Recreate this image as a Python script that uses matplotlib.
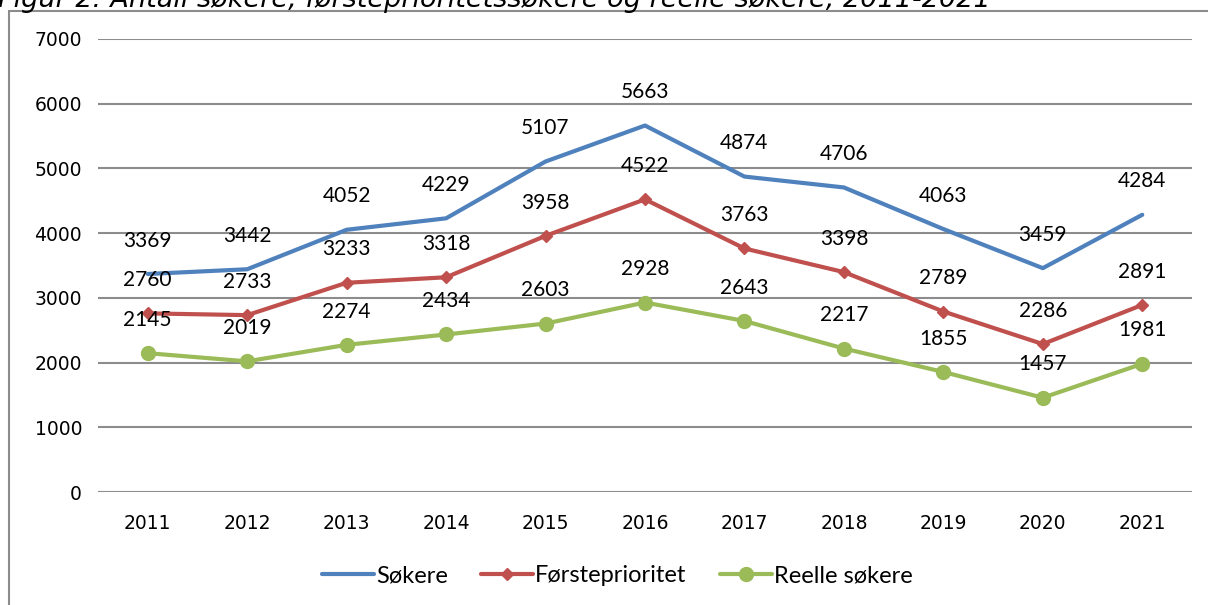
import matplotlib
matplotlib.use("Agg")
import matplotlib.pyplot as plt
from matplotlib.patches import Rectangle

years = ["2011", "2012", "2013", "2014", "2015", "2016", "2017", "2018", "2019", "2020", "2021"]
sokere = [3369, 3442, 4052, 4229, 5107, 5663, 4874, 4706, 4063, 3459, 4284]
forsteprioritet = [2760, 2733, 3233, 3318, 3958, 4522, 3763, 3398, 2789, 2286, 2891]
reelle = [2145, 2019, 2274, 2434, 2603, 2928, 2643, 2217, 1855, 1457, 1981]
yticks = [0, 1000, 2000, 3000, 4000, 5000, 6000, 7000]

W, H = 1208, 605
fig = plt.figure(figsize=(W / 100, H / 100), dpi=100)
ax = fig.add_axes([98 / W, 1 - 492 / H, (1192 - 98) / W, (492 - 39) / H])

x = list(range(len(years)))
ax.plot(x, sokere, color="#4F81BD", lw=3.0, solid_capstyle="round", label="Søkere", zorder=3)
ax.plot(x, forsteprioritet, color="#C0504D", lw=3.0, marker="D", markersize=6.5,
        solid_capstyle="round", label="Førsteprioritet", zorder=3)
ax.plot(x, reelle, color="#9BBB59", lw=3.0, marker="o", markersize=10,
        solid_capstyle="round", label="Reelle søkere", zorder=3)

label_font = dict(family=["Lato", "DejaVu Sans"], fontsize=15, color="black")
for series in (sokere, forsteprioritet, reelle):
    for xi, v in zip(x, series):
        ax.annotate(str(v), (xi, v), xytext=(0, 24), textcoords="offset points",
                    ha="center", va="center", zorder=4, **label_font)

ax.set_xlim(-0.5, len(years) - 0.5)
ax.set_ylim(0, 7000)
ax.set_yticks(yticks)
ax.set_yticklabels([str(t) for t in yticks])
ax.set_xticks(x)
ax.set_xticklabels(years)
ax.tick_params(axis="both", length=0, labelsize=13.5, colors="black")
ax.tick_params(axis="y", pad=11.5)
ax.tick_params(axis="x", pad=16)
for lbl in ax.get_xticklabels() + ax.get_yticklabels():
    lbl.set_family("DejaVu Sans")
for s in ax.spines.values():
    s.set_visible(False)
ax.grid(axis="y", color="#8C8C8C", lw=1.5, zorder=0)
ax.set_axisbelow(True)

leg = fig.legend(loc="center", bbox_to_anchor=(0.511, 1 - 576 / H), ncol=3, frameon=False,
                 prop={"family": "Lato", "size": 17}, handlelength=2.2,
                 columnspacing=1.4, handletextpad=0.1)

# outer frame (partially visible)
fig.patches.append(Rectangle((9 / W, -0.1), 1.2, 1 - 10.5 / H + 0.1, transform=fig.transFigure,
                             fill=False, edgecolor="#8C8C8C", lw=1.5))

fig.text(-2 / W, 1 - 7 / H, "Figur 2: Antall søkere, førsteprioritetssøkere og reelle søkere, 2011-2021",
         ha="left", va="baseline", fontsize=19.5, style="italic", family="DejaVu Sans")

fig.savefig("out.png", dpi=100)
